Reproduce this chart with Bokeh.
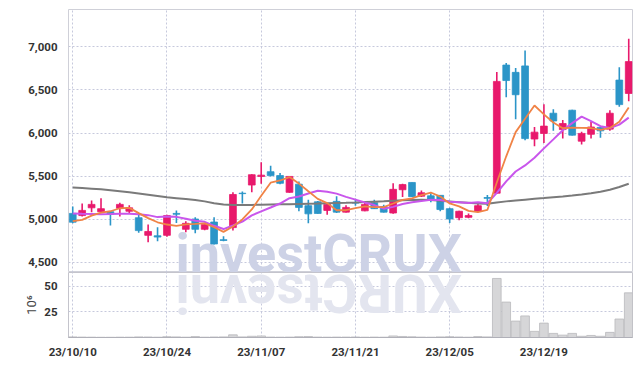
from bokeh.plotting import figure
from bokeh.layouts import column
from bokeh.models import Range1d, FixedTicker, ColumnDataSource, NumeralTickFormatter
from bokeh.core.properties import value
from bokeh.embed import file_html
from bokeh.resources import INLINE

# ---- data (trading-day index 0..59) ----
open_ = [5065, 5040, 5130, 5085, 5085, 5125, 5090, 5015, 4810, 4805,
         4810, 5065, 4880, 5000, 4880, 4965, 4760, 4900, 5300, 5395,
         5495, 5550, 5505, 5310, 5405, 5155, 5200, 5100, 5205, 5080,
         5190, 5095, 5190, 5145, 5070, 5340, 5425, 5265, 5270, 5275,
         5120, 5015, 5020, 5090, 5250, 5300, 6790, 6705, 6780, 5930,
         5995, 6230, 6040, 6265, 5905, 5985, 6065, 6045, 6615, 6460]
high = [5145, 5180, 5215, 5240, 5090, 5190, 5160, 5060, 4935, 4905,
        5050, 5100, 4975, 5020, 4940, 5020, 4800, 5310, 5320, 5520,
        5660, 5620, 5535, 5500, 5435, 5225, 5210, 5180, 5265, 5160,
        5235, 5195, 5225, 5165, 5415, 5410, 5425, 5330, 5300, 5280,
        5130, 5095, 5065, 5195, 5280, 6710, 6815, 6755, 6960, 6070,
        6335, 6275, 6150, 6270, 6015, 6130, 6075, 6265, 6765, 7095]
low = [4950, 5030, 5080, 5070, 4925, 5030, 5060, 4840, 4730, 4740,
       4795, 4955, 4845, 4835, 4870, 4705, 4740, 4865, 5180, 5310,
       5410, 5495, 5405, 5305, 5090, 4950, 5060, 5050, 5070, 5075,
       5155, 5090, 5115, 5075, 5060, 5255, 5255, 5255, 5195, 5090,
       4955, 4985, 5010, 5085, 5150, 5290, 6415, 6160, 5915, 5845,
       5885, 6025, 5935, 5970, 5865, 5935, 5945, 6025, 6305, 6370]
close = [4963, 5100, 5170, 5120, 5055, 5170, 5130, 4865, 4855, 4790,
         5040, 5055, 4950, 4880, 4935, 4710, 4750, 5285, 5295, 5515,
         5510, 5505, 5415, 5495, 5135, 5060, 5065, 5170, 5080, 5135,
         5185, 5170, 5120, 5080, 5345, 5400, 5260, 5305, 5230, 5110,
         5000, 5090, 5040, 5155, 5240, 6600, 6610, 6445, 5935, 6010,
         6080, 6140, 6110, 5975, 5995, 6070, 6025, 6230, 6330, 6830]
ma5 = [4975, 4990, 5040, 5075, 5090, 5125, 5129, 5068, 5010, 4962,
       4936, 4921, 4938, 4943, 4950, 4906, 4850, 4912, 4995, 5111,
       5271, 5422, 5448, 5488, 5412, 5322, 5234, 5185, 5102, 5102,
       5127, 5148, 5138, 5138, 5180, 5223, 5241, 5278, 5308, 5261,
       5181, 5147, 5094, 5079, 5105, 5425, 5729, 6010, 6166, 6320,
       6216, 6122, 6055, 6063, 6060, 6058, 6035, 6059, 6130, 6297]
ma10 = [5065, 5060, 5058, 5055, 5058, 5062, 5062, 5055, 5045, 5022,
        5030, 5025, 5003, 4979, 4967, 4921, 4883, 4925, 4969, 5042,
        5089, 5134, 5180, 5242, 5262, 5297, 5328, 5317, 5295, 5257,
        5225, 5191, 5162, 5120, 5141, 5175, 5195, 5208, 5223, 5221,
        5202, 5194, 5186, 5194, 5183, 5303, 5438, 5552, 5623, 5713,
        5821, 5926, 6033, 6115, 6190, 6137, 6079, 6057, 6097, 6179]
ma60 = [5365, 5360, 5353, 5345, 5335, 5323, 5310, 5297, 5283, 5268,
        5252, 5242, 5232, 5222, 5205, 5183, 5168, 5162, 5162, 5164,
        5167, 5169, 5171, 5173, 5175, 5177, 5179, 5182, 5185, 5188,
        5192, 5197, 5202, 5207, 5213, 5218, 5222, 5224, 5220, 5212,
        5204, 5196, 5188, 5180, 5177, 5192, 5205, 5215, 5225, 5235,
        5243, 5252, 5261, 5272, 5285, 5300, 5316, 5340, 5372, 5410]
volume = [0.6, 0.4, 0.3, 0.2, 0.2, 0.3, 0.3, 0.6, 0.5, 0.3,
          0.8, 0.6, 0.3, 0.9, 0.3, 0.5, 0.6, 2.6, 0.6, 1.2,
          1.5, 0.4, 0.3, 0.4, 0.8, 0.9, 0.4, 0.3, 0.4, 0.4,
          0.5, 0.3, 0.4, 0.3, 1.5, 1.0, 0.7, 0.4, 0.3, 0.6,
          0.8, 0.5, 0.3, 0.9, 0.6, 57.5, 34.5, 16.0, 21.0, 6.0,
          14.0, 4.0, 2.3, 4.0, 1.2, 2.0, 1.2, 5.0, 18.0, 43.5]
tick_pos = [0, 10, 20, 30, 40, 50]
tick_labels = ["23/10/10", "23/10/24", "23/11/07", "23/11/21", "23/12/05", "23/12/19"]

UP = "#e8196c"
DOWN = "#2b95c8"
GRID = "#c6c9dc"
FONT = "Roboto"
TICK_SIZE = "11.5px"

idx = list(range(len(close)))
colors = [UP if c >= o else DOWN for o, c in zip(open_, close)]
src = ColumnDataSource(dict(
    x=idx, o=open_, h=high, l=low, c=close,
    top=[max(o, c) for o, c in zip(open_, close)],
    bot=[min(o, c) for o, c in zip(open_, close)],
    color=colors, ma5=ma5, ma10=ma10, ma60=ma60, vol=volume))

xr = Range1d(-0.45, 59.4)

p = figure(width=642, height=272, x_range=xr, y_range=Range1d(4378, 7436),
           output_backend="svg", toolbar_location=None, x_axis_location=None,
           min_border_left=68, min_border_right=10, min_border_top=9, min_border_bottom=0)
p.outline_line_color = "#cfd0d8"
p.background_fill_color = "white"
p.border_fill_color = "white"
p.xgrid.ticker = FixedTicker(ticks=tick_pos)
for g in (p.xgrid, p.ygrid):
    g.grid_line_color = GRID
    g.grid_line_dash = "2 2"
p.yaxis.ticker = FixedTicker(ticks=[4500, 5000, 5500, 6000, 6500, 7000])
p.yaxis.formatter = NumeralTickFormatter(format="0,0")
p.yaxis.axis_line_color = None
p.yaxis.major_tick_line_color = None
p.yaxis.minor_tick_line_color = None
p.yaxis.major_label_text_font = FONT
p.yaxis.major_label_text_font_style = "bold"
p.yaxis.major_label_text_font_size = TICK_SIZE
p.yaxis.major_label_text_color = "#333333"
p.yaxis.major_label_standoff = 5

# watermark (drawn first so that it sits under the candles)
p.text(x=[10.9], y=[4604], text=["investCRUX"], text_font=value(FONT),
       text_font_style="bold", text_font_size="54px", text_color="#cdd2e6",
       text_baseline="alphabetic", text_align="left")

p.segment(x0="x", y0="l", x1="x", y1="h", color="color", line_width=1.6, source=src)
p.vbar(x="x", width=0.72, top="top", bottom="bot", fill_color="color",
       line_color="color", line_width=0.8, source=src)
p.line("x", "ma60", source=src, line_color="#7a7a7a", line_width=2)
p.line("x", "ma10", source=src, line_color="#c956ec", line_width=2)
p.line("x", "ma5", source=src, line_color="#f08346", line_width=1.8)

v = figure(width=642, height=94, x_range=xr, y_range=Range1d(0, 63.3),
           output_backend="svg", toolbar_location=None,
           min_border_left=68, min_border_right=10, min_border_top=0, min_border_bottom=29)
v.outline_line_color = "#c4c4cc"
v.background_fill_color = "white"
v.border_fill_color = "white"
v.xgrid.ticker = FixedTicker(ticks=tick_pos)
for g in (v.xgrid, v.ygrid):
    g.grid_line_color = GRID
    g.grid_line_dash = "2 2"
v.yaxis.ticker = FixedTicker(ticks=[25, 50])
v.yaxis.axis_line_color = None
v.yaxis.major_tick_line_color = None
v.yaxis.minor_tick_line_color = None
v.yaxis.major_label_text_font = FONT
v.yaxis.major_label_text_font_style = "bold"
v.yaxis.major_label_text_font_size = TICK_SIZE
v.yaxis.major_label_text_color = "#333333"
v.yaxis.major_label_standoff = 5
v.yaxis.axis_label = "10⁶"
v.yaxis.axis_label_text_font = FONT
v.yaxis.axis_label_text_font_style = "normal"
v.yaxis.axis_label_text_font_size = "13px"
v.yaxis.axis_label_text_color = "#444444"
v.yaxis.axis_label_standoff = 2
v.xaxis.ticker = FixedTicker(ticks=tick_pos)
v.xaxis.major_label_overrides = {t: s for t, s in zip(tick_pos, tick_labels)}
v.xaxis.axis_line_color = "#b0b0b8"
v.xaxis.major_tick_line_color = None
v.xaxis.minor_tick_line_color = None
v.xaxis.major_label_text_font = FONT
v.xaxis.major_label_text_font_style = "bold"
v.xaxis.major_label_text_font_size = TICK_SIZE
v.xaxis.major_label_text_color = "#333333"
v.xaxis.major_label_standoff = 1

# mirrored watermark reflection
v.text(x=[10.9], y=[42.4], text=["XURCtsevni"], text_font=value(FONT),
       text_font_style="bold", text_font_size="54px", text_color="#e3e5ef",
       text_baseline="alphabetic", text_align="right", angle=3.14159265)

v.vbar(x="x", width=0.92, top="vol", bottom=0, fill_color="#d6d6d8",
       line_color="#b9b9bd", line_width=0.8, source=src)

layout = column(p, v, spacing=0)
open("out.html", "w").write(file_html(layout, INLINE))
